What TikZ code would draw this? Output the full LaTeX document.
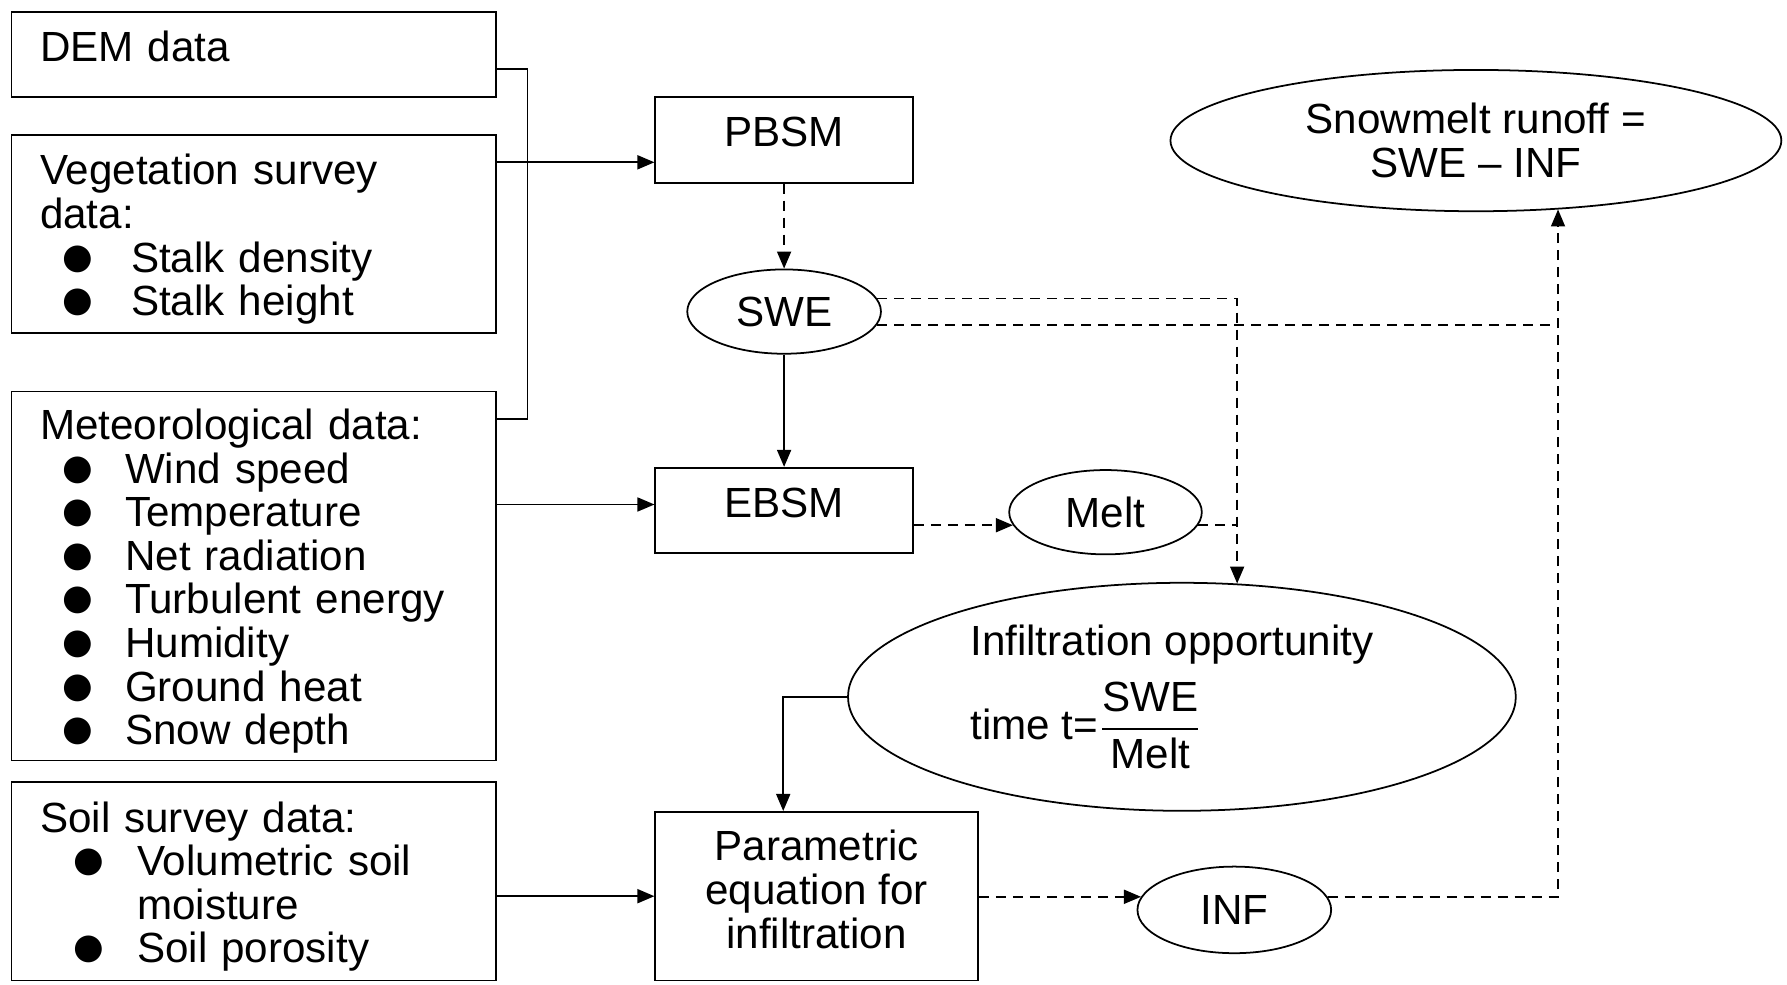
\documentclass[tikz,border=0pt]{standalone}
\usepackage{amsmath}
\usepackage{fontspec}
\setmainfont{Liberation Sans}
\newfontfamily\dejavu{DejaVu Sans}
\usepackage{tikz}
\usetikzlibrary{shapes.geometric,arrows.meta,calc}
\def\largeur{17.87}
\def\hauteur{9.84}
\newcommand{\puce}[3]{\makebox[#2][l]{\hspace*{#1}\raisebox{0.04cm}{\dejavu\fontsize{10}{10}\selectfont ●}}#3}
\newcommand{\haut}{\rule{0pt}{0.41cm}}

\tikzset{
  boite/.style={draw, rectangle, text width=4.27cm, inner xsep=0.287cm, inner ysep=0pt, align=left},
  modele/.style={draw, rectangle, minimum width=2.576cm, minimum height=0.855cm, inner sep=0pt, text depth=0.16cm},
  bulle/.style={draw, ellipse, inner sep=0pt},
  fleche/.style={-{Triangle[length=0.17cm,width=0.14cm]}},
  tirets/.style={dash pattern=on 0.1cm off 0.07cm}
}

\begin{document}
\begin{tikzpicture}[x=1cm, y=1cm, line width=0.5pt, font=\fontsize{12}{12.4}\selectfont]
%\draw[step=1cm, line width=0.1mm, black!30!white] (0,0) grid (\largeur,\hauteur);
\useasboundingbox (0,0) rectangle (\largeur,\hauteur);

    % donnees d'entree
    \node[boite, minimum height=0.855cm, text depth=0.16cm] (dem) at (2.536,9.294) {DEM data};
    \node[boite, minimum height=1.983cm] (veg) at (2.536,7.499)
        {\haut Vegetation survey\\ data:\\ \puce{0.22cm}{0.91cm}{Stalk density}\\ \puce{0.22cm}{0.91cm}{Stalk height}};
    \node[boite, minimum height=3.692cm] (met) at (2.536,4.080)
        {\haut Meteorological data:\\
         \puce{0.22cm}{0.85cm}{Wind speed}\\
         \puce{0.22cm}{0.85cm}{Temperature}\\
         \puce{0.22cm}{0.85cm}{Net radiation}\\
         \puce{0.22cm}{0.85cm}{Turbulent energy}\\
         \puce{0.22cm}{0.85cm}{Humidity}\\
         \puce{0.22cm}{0.85cm}{Ground heat}\\
         \puce{0.22cm}{0.85cm}{Snow depth}};
    \node[boite, minimum height=1.983cm] (sol) at (2.536,1.026)
        {\haut Soil survey data:\\ \puce{0.33cm}{0.97cm}{Volumetric soil}\\ \hspace*{0.97cm}moisture\\ \puce{0.33cm}{0.97cm}{Soil porosity}};

    % modeles et sorties
    \node[modele] (pbsm) at (7.841,8.439) {PBSM};
    \node[bulle, minimum width=1.937cm, minimum height=0.843cm] (swe) at (7.841,6.724) {SWE};
    \node[modele] (ebsm) at (7.841,4.735) {EBSM};
    \node[bulle, minimum width=1.926cm, minimum height=0.843cm] (melt) at (11.055,4.718) {Melt};
    \node[bulle, minimum width=6.678cm, minimum height=2.28cm, align=left] (infil) at (11.819,2.872)
        {Infiltration opportunity\hspace*{0.2cm}\\[0.14cm] time t=$\dfrac{\text{SWE}\rule[-0.05cm]{0pt}{0pt}}{\text{Melt}}$};
    \node[draw, rectangle, minimum width=3.226cm, minimum height=1.687cm, inner sep=0pt, align=center] (param) at (8.166,0.878)
        {Parametric\\ equation for\\ infiltration\rule[-0.14cm]{0pt}{0pt}};
    \node[bulle, minimum width=1.937cm, minimum height=0.866cm] (inf) at (12.343,0.741) {INF};
    \node[bulle, minimum width=6.109cm, minimum height=1.413cm, align=center] (runoff) at (14.759,8.434)
        {Snowmelt runoff =\\ SWE -- INF};

    % liaisons
    \coordinate (b1) at ($(dem.east)+(0.307,-0.142)$);
    \draw (dem.east |- b1) -- (b1) |- ($(met.north east)+(0,-0.285)$);
    \coordinate (vp) at ($(pbsm.west)+(0,-0.222)$);
    \draw[fleche] (veg.east |- vp) -- (vp);
    \coordinate (ep) at ($(ebsm.west)+(0,0.06)$);
    \draw[fleche] (met.east |- ep) -- (ep);
    \draw[fleche] (sol.east |- param.west) -- (param.west);

    \draw[fleche, tirets] (pbsm.south) -- (swe.north);
    \draw[fleche] (swe.south) -- (ebsm.north);
    \draw[fleche, tirets] (ebsm.east |- melt.188) -- (melt.188);
    \draw[tirets] (melt.-8) -- (melt.-8 -| infil.64);
    \draw[fleche, tirets] (swe.8) -| (infil.64);
    \draw[tirets] (swe.-8) -- (swe.-8 -| runoff.-40);
    \draw[fleche, tirets] (inf.8) -| (runoff.-40);

    \coordinate (pn) at ($(param.north west)+(1.288,0)$);
    \draw[fleche] (infil.west) -| (pn);
    \draw[fleche, tirets] (param.east |- inf.172) -- (inf.172);

\end{tikzpicture}
\end{document}
